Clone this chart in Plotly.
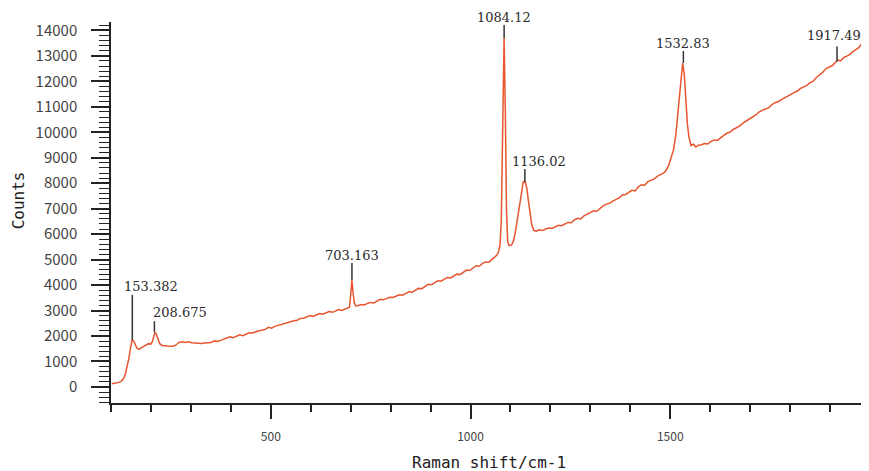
import plotly.graph_objects as go

# Raman spectrum, in segments (hand-read points incl. visible noise)
seg_a_x = [102, 112, 120, 126, 131, 136, 141, 145, 149, 153, 157, 161, 165, 170, 176, 182, 188, 194,
           200, 204, 208, 211, 214, 218, 222, 228, 234]
seg_a_y = [130, 150, 180, 230, 320, 500, 800, 1150, 1550, 1850, 1800, 1650, 1520, 1480, 1530, 1600, 1650,
           1700, 1680, 1800, 2050, 2150, 2050, 1850, 1700, 1630, 1610]

seg_b_x = [240, 255, 262, 270, 278, 286, 294, 302, 310, 318,
           326, 334, 342, 350, 358, 366, 374, 382, 390, 398,
           406, 414, 422, 430, 438, 446, 454, 462, 470, 478,
           486, 494, 502, 510, 518, 526, 534, 542, 550, 558,
           566, 574, 582, 590, 598, 606, 614, 622, 630, 638,
           646, 654, 662, 670, 678, 686, 692, 697]
seg_b_y = [1610, 1600, 1640, 1750, 1770, 1745, 1770, 1740, 1730, 1735,
           1710, 1730, 1750, 1745, 1800, 1790, 1830, 1880, 1910, 1965,
           1930, 1990, 2050, 2010, 2070, 2130, 2120, 2170, 2210, 2230,
           2260, 2340, 2310, 2380, 2420, 2440, 2480, 2520, 2550, 2600,
           2620, 2690, 2700, 2740, 2800, 2770, 2830, 2880, 2860, 2900,
           2960, 2930, 2980, 3040, 3000, 3050, 3090, 3130]

seg_c_x = [700, 703, 706, 709, 713]
seg_c_y = [3600, 4200, 3700, 3300, 3180]

seg_d_x = [718, 726, 734, 742, 750, 758, 766, 774, 782, 790,
           798, 806, 814, 822, 830, 838, 846, 854, 862, 870,
           878, 886, 894, 902, 910, 918, 926, 934, 942, 950,
           958, 966, 974, 982, 990, 998, 1006, 1014, 1022, 1030,
           1038, 1046, 1054, 1060, 1066]
seg_d_y = [3190, 3240, 3220, 3280, 3320, 3300, 3370, 3440, 3420, 3470,
           3520, 3510, 3560, 3620, 3600, 3670, 3740, 3720, 3800, 3870,
           3860, 3950, 4030, 4010, 4100, 4170, 4150, 4240, 4300, 4280,
           4370, 4430, 4420, 4520, 4590, 4570, 4670, 4760, 4740, 4850,
           4910, 4900, 5010, 5100, 5180]

seg_e_x = [1070, 1074, 1077, 1080, 1084, 1087, 1090, 1093, 1097, 1103, 1108, 1113, 1118, 1123, 1128,
           1132, 1137, 1141, 1145, 1149, 1153, 1158]
seg_e_y = [5300, 5600, 6500, 10000, 13700, 11000, 7000, 5700, 5550, 5580, 5750, 6150, 6650, 7250, 7750,
           8050, 8060, 7800, 7300, 6800, 6400, 6150]

seg_f_x = [1165, 1172, 1180, 1188, 1196, 1204, 1212, 1220, 1228, 1236,
           1244, 1252, 1260, 1268, 1276, 1284, 1292, 1300, 1308, 1316,
           1324, 1332, 1340, 1348, 1356, 1364, 1372, 1380, 1388, 1396,
           1404, 1412, 1420, 1428, 1436, 1444, 1452, 1460, 1468, 1476,
           1484, 1490]
seg_f_y = [6120, 6170, 6140, 6200, 6240, 6220, 6300, 6350, 6330, 6410,
           6460, 6450, 6560, 6620, 6600, 6720, 6790, 6860, 6920, 6900,
           7020, 7110, 7180, 7210, 7300, 7360, 7420, 7540, 7560, 7640,
           7720, 7700, 7860, 7940, 7920, 8060, 8130, 8170, 8280, 8340,
           8400, 8520]

seg_g_x = [1496, 1502, 1508, 1514, 1520, 1526, 1531, 1535, 1539, 1543, 1547, 1552, 1558, 1564, 1570]
seg_g_y = [8700, 9000, 9300, 9900, 10800, 11900, 12720, 12300, 11100, 10300, 9800, 9480, 9530, 9420, 9490]

seg_h_x = [1578, 1586, 1594, 1602, 1610, 1618, 1626, 1634, 1642, 1650,
           1658, 1666, 1674, 1682, 1690, 1698, 1706, 1714, 1722, 1730,
           1738, 1746, 1754, 1762, 1770, 1778, 1786, 1794, 1802, 1810,
           1818, 1826, 1834, 1842, 1850, 1858, 1866, 1874, 1882, 1890,
           1898, 1906, 1914, 1920, 1926, 1934, 1942, 1950, 1958, 1966,
           1972, 1978]
seg_h_y = [9510, 9560, 9540, 9640, 9700, 9680, 9800, 9880, 9960, 10010,
           10110, 10180, 10250, 10360, 10430, 10510, 10600, 10680, 10790, 10860,
           10920, 10960, 11080, 11160, 11200, 11260, 11350, 11420, 11500, 11560,
           11620, 11720, 11780, 11840, 11950, 12010, 12150, 12250, 12360, 12500,
           12560, 12620, 12760, 12840, 12800, 12930, 12990, 13060, 13180, 13260,
           13320, 13460]

shift = seg_a_x + seg_b_x + seg_c_x + seg_d_x + seg_e_x + seg_f_x + seg_g_x + seg_h_x
counts = seg_a_y + seg_b_y + seg_c_y + seg_d_y + seg_e_y + seg_f_y + seg_g_y + seg_h_y

peak_shift = [153.382, 208.675, 703.163, 1084.12, 1136.02, 1532.83, 1917.49]
peak_counts = [1850, 2150, 4200, 13700, 8050, 12720, 12780]
peak_labels = ["153.382", "208.675", "703.163", "1084.12", "1136.02", "1532.83", "1917.49"]

stem_len = [45, 11, 17, 13, 13, 12, 15]
text_dx = [19, 26, 0, 0, 14, 0, -3]
text_dy = [53, 20, 24, 21, 20, 20, 26]

fig = go.Figure()
fig.add_trace(go.Scatter(x=shift, y=counts, mode="lines",
                         line=dict(color="#E8552E", width=1.5), showlegend=False))

for px, pc, lab, sl, dx, dy in zip(peak_shift, peak_counts, peak_labels, stem_len, text_dx, text_dy):
    fig.add_shape(type="line", xref="x", yref="y", ysizemode="pixel", yanchor=pc,
                  x0=px, x1=px, y0=0, y1=sl, line=dict(color="#333333", width=1.5))
    fig.add_annotation(x=px, y=pc, xref="x", yref="y", text=lab, showarrow=False,
                       xshift=dx, yshift=dy,
                       font=dict(family="DejaVu Serif", size=13, color="#2a2a2a"))

tick_font = "Noto Sans CJK JP"
title_font = "DejaVu Sans Mono"

fig.add_annotation(text="Raman shift/cm-1", xref="paper", yref="paper", x=0.503, y=-0.155,
                   showarrow=False, xanchor="center", yanchor="middle",
                   font=dict(family=title_font, size=16, color="#222"))
fig.add_annotation(text="Counts", xref="paper", yref="paper", x=-0.122, y=0.533, textangle=-90,
                   showarrow=False, xanchor="center", yanchor="middle",
                   font=dict(family=title_font, size=16, color="#222"))

# page body has an 8px margin, so the figure is 8px smaller than the window
fig.update_layout(
    width=861, height=463,
    margin=dict(l=102.5, r=6.5, t=14, b=68),
    paper_bgcolor="white", plot_bgcolor="white",
    xaxis=dict(range=[100, 1980], tick0=0, dtick=500, ticks="outside", ticklen=14,
               tickwidth=1.5, tickcolor="#222", showline=True, linecolor="#222", linewidth=1.5,
               showgrid=False, zeroline=False, tickformat="d", ticklabelstandoff=8,
               minor=dict(dtick=100, tick0=0, ticks="outside", ticklen=7, tickwidth=1.5, tickcolor="#222"),
               tickfont=dict(family=tick_font, size=12, color="#444")),
    yaxis=dict(range=[-630, 14330], tick0=0, dtick=1000, ticks="outside", ticklen=18,
               tickwidth=1.5, tickcolor="#222", showline=True, linecolor="#222", linewidth=1.5,
               showgrid=False, zeroline=False, tickformat="d", ticklabelstandoff=11,
               minor=dict(dtick=200, tick0=0, ticks="outside", ticklen=10, tickwidth=1.2, tickcolor="#222"),
               tickfont=dict(family=tick_font, size=15, color="#444")),
)

fig.write_html("out.html")
